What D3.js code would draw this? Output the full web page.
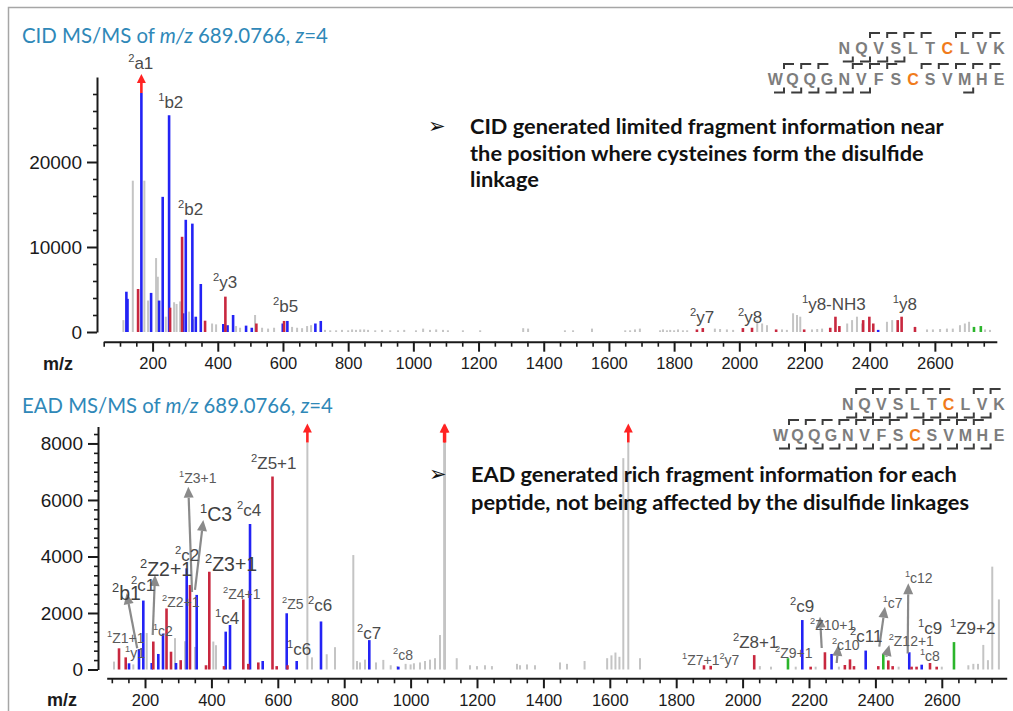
<!DOCTYPE html>
<html>
<head>
<meta charset="utf-8">
<script src="https://cdn.jsdelivr.net/npm/d3@7"></script>
<style>
  body { margin: 0; background: #fff; }
  svg { display: block; }
</style>
</head>
<body>
<div id="chart"></div>
<script>
// ---- data: peaks are [m/z, intensity] ----
const cidTitle = ["CID MS/MS of ", "m/z", " 689.0766, ", "z", "=4"]
const eadTitle = ["EAD MS/MS of ", "m/z", " 689.0766, ", "z", "=4"]

const cidNotes = [
  "CID generated limited fragment information near",
  "the position where cysteines form the disulfide",
  "linkage"
]
const eadNotes = [
  "EAD generated rich fragment information for each",
  "peptide, not being affected by the disulfide linkages"
]

const pep1 = "NQVSLTCLVK"
const pep2 = "WQQGNVFSCSVMHE"
// gaps (1-based, after residue k) carrying N-terminal (top) / C-terminal (bottom) fragments
const cidPep1Top = [2, 3, 4, 5, 7, 8, 9]
const cidPep1Bottom = [1, 2, 3, 4]
const cidPep2Top = [1, 2, 3, 5, 6, 7, 9, 10, 11, 12, 13]
const cidPep2Bottom = [1, 2, 3, 4, 5, 6, 12]
const eadPep1Top = [1, 2, 3, 4, 5, 6, 8, 9]
const eadPep1Bottom = [1, 2, 3, 4, 5, 6, 7, 8, 9]
const eadPep2Top = [1, 2, 3, 4, 5, 6, 7, 9, 10, 11, 12]
const eadPep2Bottom = [1, 2, 3, 4, 5, 6, 7, 8, 9, 10, 11, 12, 13]

const cidXTicks = [200, 400, 600, 800, 1000, 1200, 1400, 1600, 1800, 2000, 2200, 2400, 2600]
const cidYTicks = [0, 10000, 20000]
const eadXTicks = [200, 400, 600, 800, 1000, 1200, 1400, 1600, 1800, 2000, 2200, 2400, 2600]
const eadYTicks = [0, 2000, 4000, 6000, 8000]

const cidGray = [
  [110.4, 1400], [139.3, 17800], [174.8, 17800], [186.2, 3700], [210.7, 8700], [216, 6500],
  [240.5, 1800], [266, 3500], [273.6, 3300], [284.4, 3600], [312, 2400], [324.2, 1500],
  [382.5, 1000], [394.8, 900], [456.1, 700], [468.4, 500], [514.4, 2000], [535.9, 500],
  [554.3, 400], [572.7, 500], [627.9, 600], [643.3, 500], [658.6, 450], [674, 700], [686.2, 800],
  [729, 250], [745, 200], [763, 200], [781, 250], [800, 200], [812, 300], [824, 250], [837, 300],
  [849, 300], [861, 250], [883, 200], [904, 250], [929, 200], [953, 200], [972, 250], [1008, 200],
  [1030, 400], [1051, 250], [1070, 300], [1091, 250], [1106, 200], [1152, 200], [1205, 200],
  [1337, 450], [1352, 400], [1465, 200], [1490, 200], [1548, 400], [1650, 200], [1665, 200],
  [1680, 300], [1695, 400], [1757, 200], [1766, 300], [1778, 200], [1788, 250], [1800, 200],
  [1812, 300], [1827, 200], [1840, 200], [1925, 400], [1941, 350], [1962, 300], [1981, 250],
  [2055, 1400], [2070, 1000], [2085, 800], [2131, 300], [2146, 250], [2165, 2200], [2177, 2000],
  [2187, 1800], [2223, 300], [2239, 350], [2254, 400], [2331, 1000], [2346, 1400], [2361, 1800],
  [2377, 1000], [2453, 1200], [2469, 1400], [2576, 300], [2594, 300], [2616, 350], [2637, 400],
  [2655, 400], [2677, 800], [2692, 1000], [2705, 1200], [2754, 300], [2769, 250]
]
const cidBlue = [
  [119.6, 4740], [123, 3900], [165.6, 33000], [195.4, 4600], [220, 3700], [231, 15900],
  [250.6, 25500], [293.6, 2200], [301.8, 13200], [322, 12750], [332.5, 1800], [347.9, 5650],
  [417, 940], [430, 800], [447, 2000], [486.8, 750], [504.3, 500], [599.4, 1000], [613.5, 1300],
  [699.4, 1000], [716, 1300], [2426, 250]
]
const cidRed = [
  [155.5, 5060], [253.7, 2860], [290.5, 11200], [361, 1330], [423.3, 4160], [518.4, 1000],
  [603.4, 1300], [1870, 300], [1888, 460], [2011, 460], [2039, 500], [2113, 300], [2199, 300],
  [2279, 500], [2295, 1800], [2307, 700], [2380, 1400], [2399, 1800], [2411, 1000],
  [2486, 1400], [2498, 1800], [2539, 600]
]
const cidGreen = [[2720, 600], [2741, 700]]

const eadGray = [
  [106.6, 280], [164.8, 180], [205.1, 1290], [290.4, 1110], [320.5, 1000], [350.6, 800],
  [405.7, 990], [413.9, 860], [689.08, 9800], [703, 430], [747.3, 540], [772.3, 790],
  [827.4, 4050], [838.6, 300], [847.6, 250], [862.7, 350], [895.8, 250], [917.8, 340],
  [940, 150], [960, 120], [985, 200], [1000, 180], [1010, 220], [1028.3, 250], [1043.4, 300],
  [1058.4, 350], [1073.5, 400], [1088.6, 1220], [1101, 9800], [1103.6, 9800], [1138.9, 400],
  [1178.9, 150], [1200, 120], [1224, 150], [1245, 120], [1320.5, 200], [1329.5, 150],
  [1350.6, 180], [1374.7, 150], [1450, 250], [1471, 200], [1524, 300], [1592, 400], [1605, 500],
  [1617, 600], [1629, 450], [1640.7, 7480], [1655.7, 9800], [1691, 400], [2052, 120],
  [2085.5, 100], [2160, 100], [2220, 100], [2290, 100], [2470, 100], [2600, 100], [2680, 150],
  [2695, 200], [2709, 200], [2725, 870], [2739, 330], [2752, 3640], [2772, 2480]
]
const eadBlue = [
  [151.8, 220], [181.9, 720], [194.9, 2440], [220.2, 230], [240.1, 550], [254.2, 1270],
  [293.4, 230], [325.6, 3580], [355.7, 2640], [443.1, 1340], [456, 1575], [516.3, 5150],
  [554.5, 300], [626.8, 1990], [656.9, 300], [730.1, 1700], [875.6, 1040], [963, 100],
  [2179.8, 1750], [2268, 550], [2370.8, 670], [2502, 610], [2539.5, 170]
]
const eadRed = [
  [121.7, 750], [141.9, 430], [225, 990], [264.8, 2160], [278.3, 630], [307.5, 330],
  [335.5, 2990], [383.7, 150], [393.7, 3460], [437.9, 120], [496.1, 2480], [511.1, 200],
  [541.3, 250], [584, 6830], [596.7, 120], [629.2, 150], [1883.7, 150], [1904, 130],
  [2035, 510], [2205, 100], [2248, 610], [2308, 160], [2323.5, 360], [2335.5, 120],
  [2408.7, 120], [2438.9, 320], [2452, 120], [2509, 100], [2524, 100], [2564.5, 230],
  [2584.6, 100]
]
const eadGreen = [[2136.7, 400], [2423.8, 550], [2636.7, 970]]

// labels: [text ("^" marks a superscript digit), m/z, intensity] at label start / baseline
const cidLabels = [
  ["^2a1", 125, 30940], ["^1b2", 217, 26350], ["^2b2", 278, 13760], ["^2y3", 385.6, 5180],
  ["^2b5", 569.6, 2350], ["^2y7", 1849, 1100], ["^2y8", 1996, 1100], ["^1y8-NH3", 2192, 2590],
  ["^1y8", 2471, 2590]
]
const eadLabelsBig = [
  ["^2b1", 100.6, 2460], ["^2Z2+1", 185, 3310], ["^1C3", 365.7, 5260], ["^2Z3+1", 380.7, 3490]
]
const eadLabelsMid = [
  ["^2c1", 157.8, 2780], ["^2c2", 290.4, 3840], ["^2c4", 477, 5430], ["^2Z5+1", 519.3, 7100],
  ["^1c4", 410.8, 1610], ["^2c6", 691, 2070], ["^1c6", 627.7, 510], ["^2c7", 838.6, 1080],
  ["^2Z8+1", 1971, 760], ["^2c9", 2143, 2040], ["^2c11", 2323.5, 970], ["^1c9", 2528, 1260],
  ["^1Z9+2", 2624.7, 1260]
]
const eadLabelsSmall = [
  ["^1Z1+1", 85.5, 940], ["^1y1", 139.8, 410], ["^1c2", 224, 1190], ["^2Z2+1", 251.2, 2210],
  ["^1Z3+1", 302.4, 6600], ["^2Z4+1", 435, 2500], ["^2Z5", 612.7, 2140], ["^2c8", 947, 340],
  ["^1Z7+1^2y7", 1817.5, 160], ["^2Z9+1", 2097.6, 410], ["^2Z10+1", 2203, 1400],
  ["^2c10", 2269, 690], ["^1c7", 2422, 2180], ["^2Z12+1", 2440, 830], ["^1c8", 2534, 300],
  ["^1c12", 2489, 3060]
]
// arrows: [from m/z, from intensity, to m/z, to intensity]
const eadArrows = [
  [176.5, 750, 144.6, 2700], [223.2, 1220, 230.1, 3345], [341.6, 2745, 330.4, 6470],
  [350.6, 2815, 375.6, 5290], [2238.3, 760, 2233.1, 1870], [2283.4, 230, 2288.3, 870],
  [2411.7, 810, 2428.9, 2220], [2432.8, 450, 2441.9, 870], [2497.3, 570, 2499.1, 3050]
]

// ---- drawing ----
const colors = {gray: "#c4c4c4", blue: "#2323f5", red: "#c8283f", green: "#2bb52b"}
const titleColor = "#2f88b8"

const svg = d3.select("#chart").append("svg")
  .attr("width", 1013)
  .attr("height", 711)
  .attr("font-family", "'Liberation Sans', Arial, sans-serif")

svg.append("path")
  .attr("d", "M8.5,720 V7.5 H1020")
  .attr("fill", "none")
  .attr("stroke", "#a6a6a6")
  .attr("stroke-width", 1.5)

function fitWidth(text, target) {
  const w = text.node().getComputedTextLength()
  const fs = parseFloat(text.attr("font-size"))
  text.attr("font-size", fs * target / w)
  return fs * target / w
}

function drawLabel(g, x0, y0, str, size, color) {
  const t = g.append("text")
    .attr("x", x0).attr("y", y0)
    .attr("font-size", size)
    .attr("fill", color)
  const r = size * 0.4
  str.split("^").filter(s => s.length).forEach(p => {
    t.append("tspan").attr("font-size", size * 0.66).attr("dy", -r).text(p[0])
    t.append("tspan").attr("dy", r).text(p.slice(1))
  })
}

function drawArrow(g, x1, y1, x2, y2) {
  const a = Math.atan2(y2 - y1, x2 - x1)
  const L = 11, W = 5
  const bx = x2 - L * Math.cos(a), by = y2 - L * Math.sin(a)
  g.append("line")
    .attr("x1", x1).attr("y1", y1).attr("x2", bx).attr("y2", by)
    .attr("stroke", "#8a8a8a").attr("stroke-width", 2.2)
  g.append("path")
    .attr("d", `M${x2},${y2}L${bx + W * Math.sin(a)},${by - W * Math.cos(a)}L${bx - W * Math.sin(a)},${by + W * Math.cos(a)}Z`)
    .attr("fill", "#8a8a8a")
}

function drawSeq(g, seq, cIndex, top, bottom, xRight, baseline, pitch) {
  const x0 = xRight - (seq.length - 1) * pitch
  g.append("g").selectAll("text")
    .data(seq.split(""))
    .join("text")
    .attr("x", (d, i) => x0 + i * pitch)
    .attr("y", baseline)
    .attr("text-anchor", "middle")
    .attr("font-weight", "bold")
    .attr("font-size", 16)
    .attr("fill", (d, i) => i === cIndex ? "#f07b1c" : "#7d7d7d")
    .text(d => d)
  const gx = k => x0 + (k - 1) * pitch + pitch / 2
  const yt = baseline - 21, yb = baseline + 7.5
  g.append("path")
    .attr("d", top.map(k => `M${gx(k)},${yt + 5}V${yt}H${gx(k) + 10}`).join("")
      + bottom.map(k => `M${gx(k) - 10},${yb}H${gx(k)}V${yb - 5}`).join(""))
    .attr("fill", "none")
    .attr("stroke", "#3c3c3c")
    .attr("stroke-width", 2)
}

function drawNotes(g, lines, x0, y0, lh, target) {
  g.append("text")
    .attr("x", x0 - 42).attr("y", y0 - 1)
    .attr("font-family", "'DejaVu Sans'")
    .attr("font-size", 21)
    .attr("fill", "#111")
    .text("\u27A2")
  const texts = g.append("g").selectAll("text")
    .data(lines)
    .join("text")
    .attr("x", x0)
    .attr("y", (d, i) => y0 + i * lh)
    .attr("font-family", "Lato, 'Open Sans', sans-serif")
    .attr("font-weight", "bold")
    .attr("font-size", 20)
    .attr("fill", "#111")
    .text(d => d)
  const fs = fitWidth(d3.select(texts.nodes()[0]), target)
  texts.attr("font-size", fs)
}

function drawTitle(parts, x0, y0, target) {
  const t = svg.append("text")
    .attr("x", x0).attr("y", y0)
    .attr("font-family", "Lato, 'Open Sans', sans-serif")
    .attr("font-size", 21)
    .attr("fill", titleColor)
  parts.forEach((p, i) => t.append("tspan").attr("font-style", i % 2 ? "italic" : null).text(p))
  fitWidth(t, target)
}

function drawPanel(p) {
  const g = svg.append("g")
  const x = d3.scaleLinear().domain(p.xDomain).range(p.xRange)
  const y = d3.scaleLinear().domain([0, p.yMax]).range([p.base, p.top])

  // y axis
  const ya = g.append("g").attr("transform", `translate(${p.yAxisX},0)`)
    .call(d3.axisLeft(y).tickValues(p.yTicks).tickSize(10).tickSizeOuter(0)
      .tickPadding(5).tickFormat(d3.format("d")))
    .attr("font-family", null).attr("font-size", 19).attr("color", "#1a1a1a")
  ya.selectAll("path, line").attr("stroke-width", 2)
  g.append("g").attr("transform", `translate(${p.yAxisX},0)`)
    .call(d3.axisLeft(y).tickValues(p.yMinor).tickSize(4).tickFormat(""))
    .attr("color", "#1a1a1a")
    .call(s => s.select(".domain").remove())
    .selectAll("line").attr("stroke-width", 1.6)

  // x axis
  const xa = g.append("g").attr("transform", `translate(0,${p.xAxisY})`)
    .call(d3.axisBottom(x).tickValues(p.xTicks).tickSize(10).tickSizeOuter(0)
      .tickPadding(6).tickFormat(d3.format("d")))
    .attr("font-family", null).attr("font-size", 16.5).attr("color", "#1a1a1a")
  xa.selectAll("path, line").attr("stroke-width", 2)
  g.append("g").attr("transform", `translate(0,${p.xAxisY})`)
    .call(d3.axisBottom(x).tickValues(p.xMinor).tickSize(5).tickFormat(""))
    .attr("color", "#1a1a1a")
    .call(s => s.select(".domain").remove())
    .selectAll("line").attr("stroke-width", 1.6)

  g.append("text")
    .attr("x", p.mzX).attr("y", p.xAxisY + 28)
    .attr("font-weight", "bold").attr("font-size", 18).attr("fill", "#1a1a1a")
    .text("m/z")

  // peaks
  const topClip = y(p.yMax) + 16
  p.series.forEach(([data, c]) => {
    g.append("g").selectAll("line")
      .data(data)
      .join("line")
      .attr("x1", d => x(d[0])).attr("x2", d => x(d[0]))
      .attr("y1", y(0))
      .attr("y2", d => d[1] > p.yMax ? topClip : y(d[1]))
      .attr("stroke", colors[c])
      .attr("stroke-width", c === "gray" ? 2 : 2.6)
    const over = data.filter(d => d[1] > p.yMax)
    g.append("g").selectAll("line")
      .data(over)
      .join("line")
      .attr("x1", d => x(d[0])).attr("x2", d => x(d[0]))
      .attr("y1", topClip).attr("y2", y(p.yMax) + 4)
      .attr("stroke", "#ff2323").attr("stroke-width", 2.6)
    g.append("g").selectAll("path")
      .data(over)
      .join("path")
      .attr("d", d => {
        const cx = x(d[0]), ty = y(p.yMax) - 3
        return `M${cx},${ty}L${cx - 4.5},${ty + 9}L${cx + 4.5},${ty + 9}Z`
      })
      .attr("fill", "#ff2323")
  })

  // annotations
  p.arrows.forEach(a => drawArrow(g, x(a[0]), y(a[1]), x(a[2]), y(a[3])))
  p.labels.forEach(([list, size, color]) =>
    list.forEach(l => drawLabel(g, x(l[1]), y(l[2]), l[0], size, color)))
}

drawTitle(cidTitle, 22, 43, 306)
drawTitle(eadTitle, 22, 413, 311)

drawPanel({
  xDomain: [50, 2790], xRange: [103.7, 996.8],
  yMax: 30000, base: 332, top: 77,
  yAxisX: 97, xAxisY: 341.7, mzX: 43,
  yTicks: cidYTicks, yMinor: d3.range(2000, 30000, 2000).filter(v => v % 10000),
  xTicks: cidXTicks, xMinor: d3.range(50, 2800, 50).filter(v => v % 200),
  series: [[cidGray, "gray"], [cidBlue, "blue"], [cidRed, "red"], [cidGreen, "green"]],
  arrows: [],
  labels: [[cidLabels, 17, "#4a4a4a"]]
})

drawPanel({
  xDomain: [84.6, 2795.5], xRange: [106.7, 1006.7],
  yMax: 8600, base: 669.5, top: 426.5,
  yAxisX: 98, xAxisY: 678.3, mzX: 47,
  yTicks: eadYTicks, yMinor: d3.range(1, 26).map(i => i * 2000 / 6).filter(v => v < 8600 && Math.round(v) % 2000),
  xTicks: eadXTicks, xMinor: d3.range(100, 2800, 50).filter(v => v % 200),
  series: [[eadGray, "gray"], [eadBlue, "blue"], [eadRed, "red"], [eadGreen, "green"]],
  arrows: eadArrows,
  labels: [[eadLabelsMid, 17, "#4a4a4a"], [eadLabelsSmall, 14, "#5a5a5a"], [eadLabelsBig, 19.5, "#404040"]]
})

const seqG = svg.append("g")
drawSeq(seqG, pep1, 6, cidPep1Top, cidPep1Bottom, 999, 54, 17.2)
drawSeq(seqG, pep2, 8, cidPep2Top, cidPep2Bottom, 999, 85, 17.2)
drawSeq(seqG, pep1, 6, eadPep1Top, eadPep1Bottom, 999, 410, 16.8)
drawSeq(seqG, pep2, 8, eadPep2Top, eadPep2Bottom, 999, 441, 16.8)

drawNotes(svg.append("g"), cidNotes, 470, 134, 26.5, 474)
drawNotes(svg.append("g"), eadNotes, 471, 482, 28, 486)
</script>
</body>
</html>
